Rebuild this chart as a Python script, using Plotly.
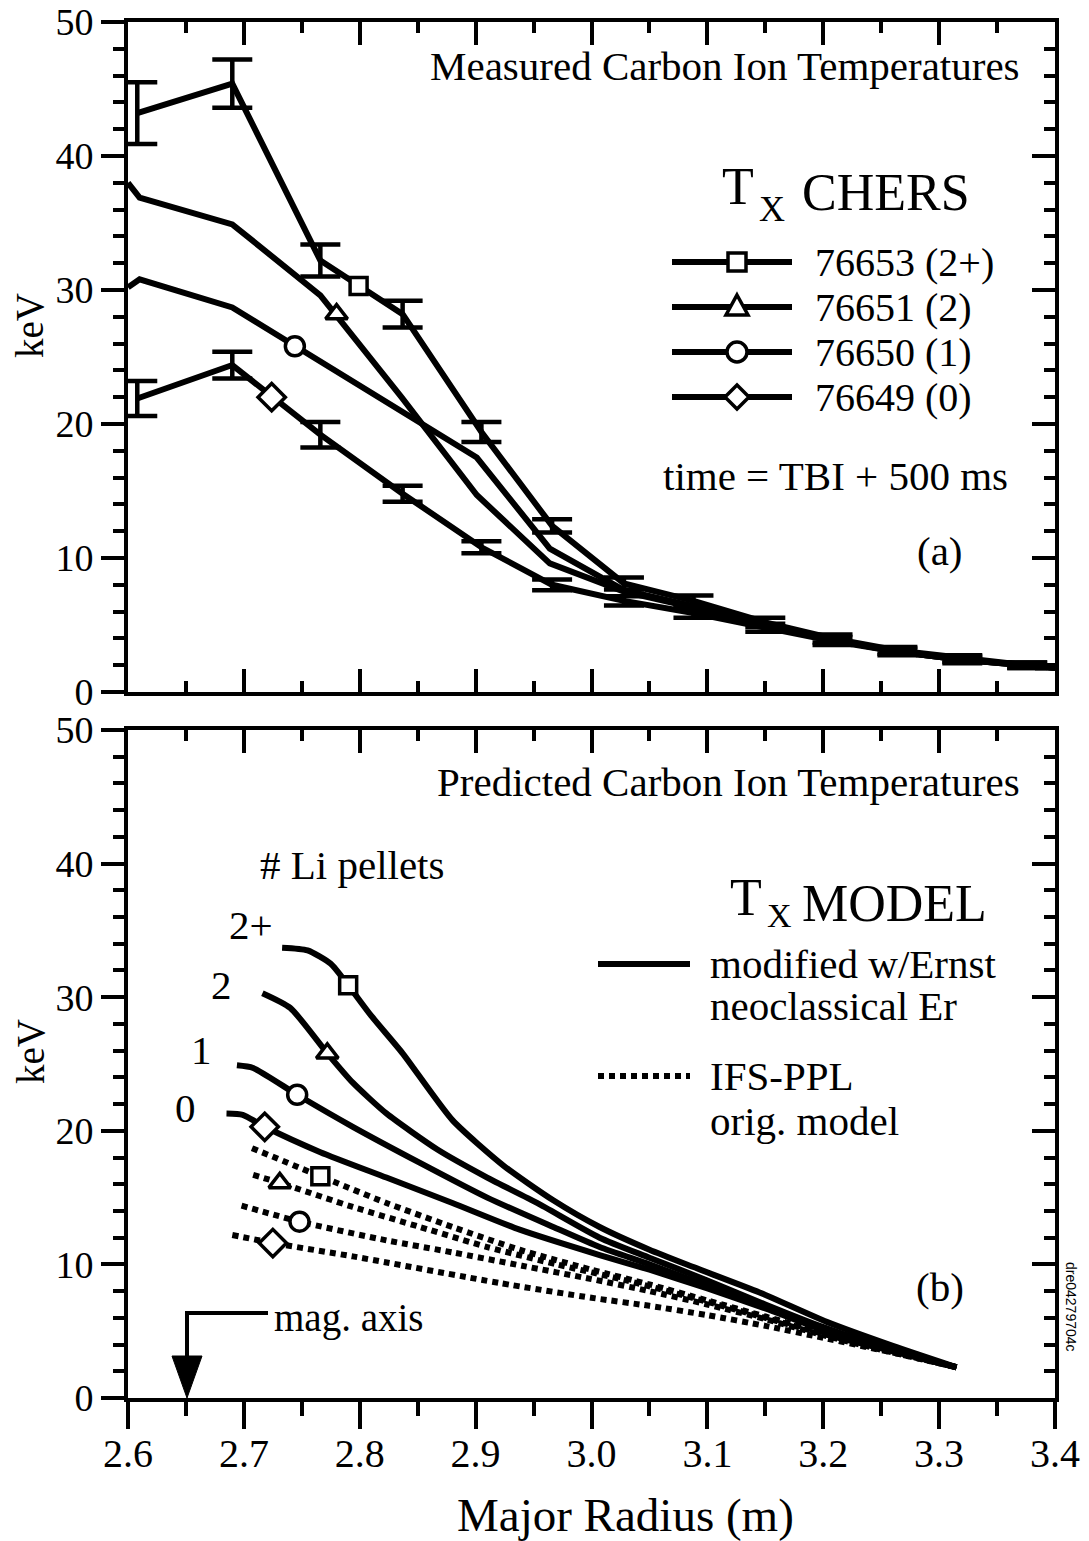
import plotly.graph_objects as go

# ---------------- panel (a): measured carbon ion temperatures (CHERS) ----------------
r_76653 = [2.608, 2.690, 2.766, 2.837, 2.905, 2.966, 3.028, 3.088, 3.150, 3.208, 3.264, 3.320, 3.376, 3.400]
t_76653 = [43.2, 45.4, 32.2, 28.2, 19.4, 12.4, 8.1, 6.8, 5.2, 4.0, 3.1, 2.5, 2.0, 1.8]
e_76653 = [2.3, 1.8, 1.2, 1.0, 0.75, 0.5, 0.45, 0.4, 0.35, 0.3, 0.25, 0.25, 0.2, None]

r_76651 = [2.600, 2.610, 2.690, 2.766, 2.836, 2.901, 2.964, 3.028, 3.088, 3.150, 3.208, 3.264, 3.320, 3.376, 3.400]
t_76651 = [38.0, 36.9, 34.9, 29.6, 22.0, 14.7, 9.6, 7.5, 6.3, 5.0, 3.9, 3.0, 2.4, 2.0, 1.8]

r_76650 = [2.600, 2.610, 2.690, 2.835, 2.901, 2.964, 3.028, 3.088, 3.150, 3.208, 3.264, 3.320, 3.376, 3.400]
t_76650 = [30.2, 30.8, 28.7, 21.0, 17.5, 10.7, 7.6, 6.4, 5.0, 3.9, 3.0, 2.4, 2.0, 1.8]

r_76649 = [2.608, 2.690, 2.766, 2.837, 2.905, 2.966, 3.028, 3.088, 3.150, 3.208, 3.264, 3.320, 3.376, 3.400]
t_76649 = [21.9, 24.4, 19.2, 14.8, 10.8, 8.0, 6.8, 5.9, 4.8, 3.8, 3.0, 2.4, 2.0, 1.8]
e_76649 = [1.3, 1.0, 0.95, 0.6, 0.45, 0.4, 0.35, 0.35, 0.3, 0.3, 0.25, 0.25, 0.2, None]

# symbol positions along each measured profile
mark_a_r = [2.799, 2.780, 2.744, 2.724]
mark_a_t = [30.3, 28.2, 25.8, 22.0]

# ---------------- panel (b): predicted carbon ion temperatures ----------------
# modified w/Ernst neoclassical Er (solid)
rm_2p = [2.733, 2.755, 2.775, 2.790, 2.810, 2.837, 2.880, 2.924, 2.967, 3.007, 3.050, 3.088, 3.145, 3.203, 3.260, 3.315]
tm_2p = [33.7, 33.5, 32.5, 30.9, 28.6, 25.8, 20.8, 17.4, 14.8, 12.8, 11.1, 9.8, 7.9, 5.7, 3.9, 2.3]
rm_2 = [2.716, 2.740, 2.772, 2.794, 2.823, 2.867, 2.910, 2.953, 3.007, 3.050, 3.100, 3.150, 3.200, 3.260, 3.315]
tm_2 = [30.3, 29.2, 25.8, 23.6, 21.3, 18.6, 16.5, 14.6, 12.0, 10.5, 8.8, 7.0, 5.3, 3.6, 2.3]
rm_1 = [2.694, 2.708, 2.746, 2.794, 2.852, 2.910, 2.967, 3.007, 3.050, 3.100, 3.150, 3.200, 3.260, 3.315]
tm_1 = [24.9, 24.7, 22.7, 20.3, 17.6, 15.0, 12.8, 11.3, 10.0, 8.4, 6.8, 5.2, 3.6, 2.3]
rm_0 = [2.685, 2.699, 2.718, 2.766, 2.823, 2.880, 2.938, 3.007, 3.050, 3.100, 3.150, 3.200, 3.260, 3.315]
tm_0 = [21.3, 21.2, 20.3, 18.4, 16.5, 14.6, 12.6, 10.7, 9.6, 8.2, 6.7, 5.1, 3.6, 2.3]

# IFS-PPL orig. model (dotted)
ro_2p = [2.707, 2.766, 2.823, 2.880, 2.938, 3.000, 3.050, 3.100, 3.150, 3.200, 3.260, 3.315]
to_2p = [18.7, 16.6, 14.6, 12.8, 11.1, 9.6, 8.5, 7.3, 6.1, 4.9, 3.5, 2.3]
ro_2 = [2.708, 2.731, 2.794, 2.852, 2.910, 2.970, 3.030, 3.100, 3.150, 3.200, 3.260, 3.315]
to_2 = [16.7, 16.1, 14.3, 12.8, 11.3, 10.0, 8.8, 7.2, 6.0, 4.8, 3.5, 2.3]
ro_1 = [2.698, 2.748, 2.823, 2.880, 2.940, 3.000, 3.050, 3.100, 3.150, 3.200, 3.260, 3.315]
to_1 = [14.4, 13.2, 11.8, 10.9, 9.9, 8.9, 8.0, 7.0, 5.9, 4.7, 3.4, 2.3]
ro_0 = [2.690, 2.725, 2.794, 2.921, 3.000, 3.050, 3.100, 3.150, 3.200, 3.260, 3.315]
to_0 = [12.2, 11.6, 10.6, 8.6, 7.5, 6.9, 6.2, 5.4, 4.5, 3.4, 2.3]

mark_bm_r = [2.790, 2.772, 2.746, 2.718]
mark_bm_t = [30.9, 25.8, 22.7, 20.3]
mark_bo_r = [2.766, 2.731, 2.748, 2.725]
mark_bo_t = [16.6, 16.1, 13.2, 11.6]

symbols = ["square", "triangle-up", "circle", "diamond"]
sym_sizes = [17, 19, 19, 21]
shot_labels = ["76653 (2+)", "76651 (2)", "76650 (1)", "76649 (0)"]
pellet_labels = ["2+", "2", "1", "0"]

x_range = [2.6, 3.4]
y_range = [0, 50]
x_ticks = [2.6, 2.7, 2.8, 2.9, 3.0, 3.1, 3.2, 3.3, 3.4]

# ---------------- figure ----------------
SERIF = "Liberation Serif"
FS = 41
L, R, T, B = 128, 1055, 22, 1398
W, H = 1089, 1541


def px(x):
    return (x - L) / (R - L)


def py(y):
    return (B - y) / (B - T)


top_dom = [py(692), 1.0]
bot_dom = [0.0, py(730)]

fig = go.Figure()
LW = 6
MK = dict(color="white", opacity=1, line=dict(color="black", width=3.5))

# panel (a)
fig.add_trace(go.Scatter(x=r_76653, y=t_76653, mode="lines", line=dict(color="black", width=LW),
                         error_y=dict(type="data", array=e_76653, visible=True, thickness=4.5, width=20, color="black"),
                         xaxis="x", yaxis="y", showlegend=False, hoverinfo="skip"))
fig.add_trace(go.Scatter(x=r_76651, y=t_76651, mode="lines", line=dict(color="black", width=LW),
                         xaxis="x", yaxis="y", showlegend=False, hoverinfo="skip"))
fig.add_trace(go.Scatter(x=r_76650, y=t_76650, mode="lines", line=dict(color="black", width=LW),
                         xaxis="x", yaxis="y", showlegend=False, hoverinfo="skip"))
fig.add_trace(go.Scatter(x=r_76649, y=t_76649, mode="lines", line=dict(color="black", width=LW),
                         error_y=dict(type="data", array=e_76649, visible=True, thickness=4.5, width=20, color="black"),
                         xaxis="x", yaxis="y", showlegend=False, hoverinfo="skip"))
fig.add_trace(go.Scatter(x=mark_a_r, y=mark_a_t, mode="markers", opacity=1,
                         marker=dict(symbol=symbols, size=sym_sizes, **MK),
                         xaxis="x", yaxis="y", showlegend=False, hoverinfo="skip"))

# panel (b)
DOT = "6px,5px"
for rr, tt in [(ro_2p, to_2p), (ro_2, to_2), (ro_1, to_1), (ro_0, to_0)]:
    fig.add_trace(go.Scatter(x=rr, y=tt, mode="lines", line=dict(color="black", width=LW, dash=DOT, shape="spline", smoothing=0.6),
                             xaxis="x2", yaxis="y2", showlegend=False, hoverinfo="skip"))
for rr, tt in [(rm_2p, tm_2p), (rm_2, tm_2), (rm_1, tm_1), (rm_0, tm_0)]:
    fig.add_trace(go.Scatter(x=rr, y=tt, mode="lines", line=dict(color="black", width=LW, shape="spline", smoothing=0.6),
                             xaxis="x2", yaxis="y2", showlegend=False, hoverinfo="skip"))
fig.add_trace(go.Scatter(x=mark_bm_r + mark_bo_r, y=mark_bm_t + mark_bo_t, mode="markers", opacity=1,
                         marker=dict(symbol=symbols + symbols, size=sym_sizes + sym_sizes, **MK),
                         xaxis="x2", yaxis="y2", showlegend=False, hoverinfo="skip"))

# dummy traces so overlay (mirror) axes are drawn
for xa, ya in [("x3", "y"), ("x", "y3"), ("x4", "y2"), ("x2", "y4")]:
    fig.add_trace(go.Scatter(x=[None], y=[None], xaxis=xa, yaxis=ya, mode="lines", showlegend=False, hoverinfo="skip"))

tickfont = dict(family=SERIF, size=38, color="black")


def xax(**kw):
    d = dict(range=x_range, tickmode="array", tickvals=x_ticks, ticktext=[f"{v:.1f}" for v in x_ticks],
             showgrid=False, zeroline=False, showline=True, linewidth=4, linecolor="black", automargin=False,
             tickwidth=4, tickcolor="black", tickfont=dict(family=SERIF, size=40, color="black"),
             ticklabeloverflow="allow")
    d.update(kw)
    return d


def yax(**kw):
    d = dict(range=y_range, dtick=10, tick0=0, showgrid=False, zeroline=False, showline=True, linewidth=4,
             linecolor="black", tickwidth=4, tickcolor="black", tickfont=tickfont, automargin=False,
             ticklabeloverflow="allow")
    d.update(kw)
    return d


minor_x_in = dict(ticks="inside", ticklen=11, tickwidth=4, tickcolor="black", dtick=0.05, tick0=2.6, showgrid=False)
minor_x_out = dict(ticks="outside", ticklen=14, tickwidth=4, tickcolor="black", dtick=0.05, tick0=2.6, showgrid=False)
minor_y_in = dict(ticks="inside", ticklen=11, tickwidth=4, tickcolor="black", dtick=2, tick0=0, showgrid=False)
minor_y_out = dict(ticks="outside", ticklen=11, tickwidth=4, tickcolor="black", dtick=2, tick0=0, showgrid=False)

fig.update_layout(
    width=W, height=H,
    margin=dict(l=L, r=W - R, t=T, b=H - B, pad=0, autoexpand=False),
    paper_bgcolor="white", plot_bgcolor="white",
    font=dict(family=SERIF, size=FS, color="black"),
    xaxis=xax(domain=[0, 1], anchor="y", ticks="inside", ticklen=23, showticklabels=False, minor=minor_x_in),
    xaxis3=xax(overlaying="x", side="top", anchor="y", ticks="inside", ticklen=23, showticklabels=False, minor=minor_x_in),
    yaxis=yax(domain=top_dom, anchor="x", ticks="outside", ticklen=23, minor=minor_y_out),
    yaxis3=yax(overlaying="y", side="right", anchor="x", ticks="inside", ticklen=23, showticklabels=False, minor=minor_y_in),
    xaxis2=xax(domain=[0, 1], anchor="y2", ticks="outside", ticklen=27, minor=minor_x_out, ticklabelstandoff=-10),
    xaxis4=xax(overlaying="x2", side="top", anchor="y2", ticks="inside", ticklen=23, showticklabels=False, minor=minor_x_in),
    yaxis2=yax(domain=bot_dom, anchor="x2", ticks="outside", ticklen=23, minor=minor_y_out),
    yaxis4=yax(overlaying="y2", side="right", anchor="x2", ticks="inside", ticklen=23, showticklabels=False, minor=minor_y_in),
)

ann = []
shapes = []


def text(s, x, y, size=FS, xanchor="center", family=SERIF, angle=0):
    ann.append(dict(text=s, x=px(x), y=py(y), xref="paper", yref="paper", xanchor=xanchor, yanchor="middle",
                    showarrow=False, textangle=angle, font=dict(family=family, size=size, color="black")))


# axis titles
text("keV", 30, 326, size=39, angle=-90)
text("keV", 30, 1052, size=39, angle=-90)
text("Major Radius (m)", 625, 1515, size=47)

# panel (a) texts
text("Measured Carbon Ion Temperatures", 1022, 66, xanchor="right")
text("T", 756, 186, size=52, xanchor="right")
text("X", 757, 209, size=36, xanchor="left")
text("CHERS", 800, 192, size=52, xanchor="left")
legend_rows = [262, 307, 352, 397]
for lab, yy in zip(shot_labels, legend_rows):
    text(lab, 813, yy, size=40, xanchor="left")
text("time = TBI + 500 ms", 835, 476)
text("(a)", 940, 551)

# panel (b) texts
text("Predicted Carbon Ion Temperatures", 1022, 782, xanchor="right")
text("# Li pellets", 352, 865)
for lab, (xx, yy) in zip(pellet_labels, [(251, 925), (221, 985), (201, 1050), (185, 1108)]):
    text(lab, xx, yy)
text("T", 764, 897, size=52, xanchor="right")
text("X", 765, 915, size=34, xanchor="left")
text("MODEL", 800, 903, size=52, xanchor="left")
bl_rows = [964, 1006, 1076, 1121]
text("modified w/Ernst", 708, bl_rows[0], xanchor="left")
text("neoclassical Er", 708, bl_rows[1], xanchor="left")
text("IFS-PPL", 708, bl_rows[2], xanchor="left")
text("orig. model", 708, bl_rows[3], xanchor="left")
text("(b)", 940, 1287)
text("mag. axis", 272, 1318, size=39, xanchor="left")
text("dre04279704c", 1071, 1307, size=14, family="Liberation Sans", angle=90)


def seg(x0, y0, x1, y1, width=LW, dash=None):
    d = dict(type="line", xref="paper", yref="paper", x0=px(x0), y0=py(y0), x1=px(x1), y1=py(y1),
             line=dict(color="black", width=width))
    if dash:
        d["line"]["dash"] = dash
    shapes.append(d)


def poly(pts, fill="white", width=3.5, closed=True):
    p = "M " + " L ".join(f"{px(a):.5f},{py(b):.5f}" for a, b in pts) + (" Z" if closed else "")
    shapes.append(dict(type="path", xref="paper", yref="paper", path=p,
                       fillcolor=fill if closed else "rgba(0,0,0,0)", line=dict(color="black", width=width)))


# legend glyphs, panel (a)
cx = 737
for sym, yy in zip(symbols, legend_rows):
    seg(672, yy, 792, yy)
    if sym == "square":
        poly([(cx - 9, yy - 9), (cx + 9, yy - 9), (cx + 9, yy + 9), (cx - 9, yy + 9)])
    elif sym == "triangle-up":
        poly([(cx, yy - 12), (cx + 11, yy + 8), (cx - 11, yy + 8)])
    elif sym == "circle":
        shapes.append(dict(type="circle", xref="paper", yref="paper", x0=px(cx - 10), x1=px(cx + 10),
                           y0=py(yy + 10), y1=py(yy - 10), fillcolor="white", line=dict(color="black", width=3.5)))
    else:
        poly([(cx, yy - 12), (cx + 12, yy), (cx, yy + 12), (cx - 12, yy)])

# legend samples, panel (b)
seg(598, bl_rows[0], 690, bl_rows[0])
seg(598, bl_rows[2], 690, bl_rows[2], dash=DOT)

# magnetic axis arrow
poly([(268, 1313), (187, 1313), (187, 1362)], width=4, closed=False)
poly([(172, 1356), (202, 1356), (187, 1398)], fill="black", width=1)

fig.update_layout(annotations=ann, shapes=shapes)
fig.write_html("out.html")
